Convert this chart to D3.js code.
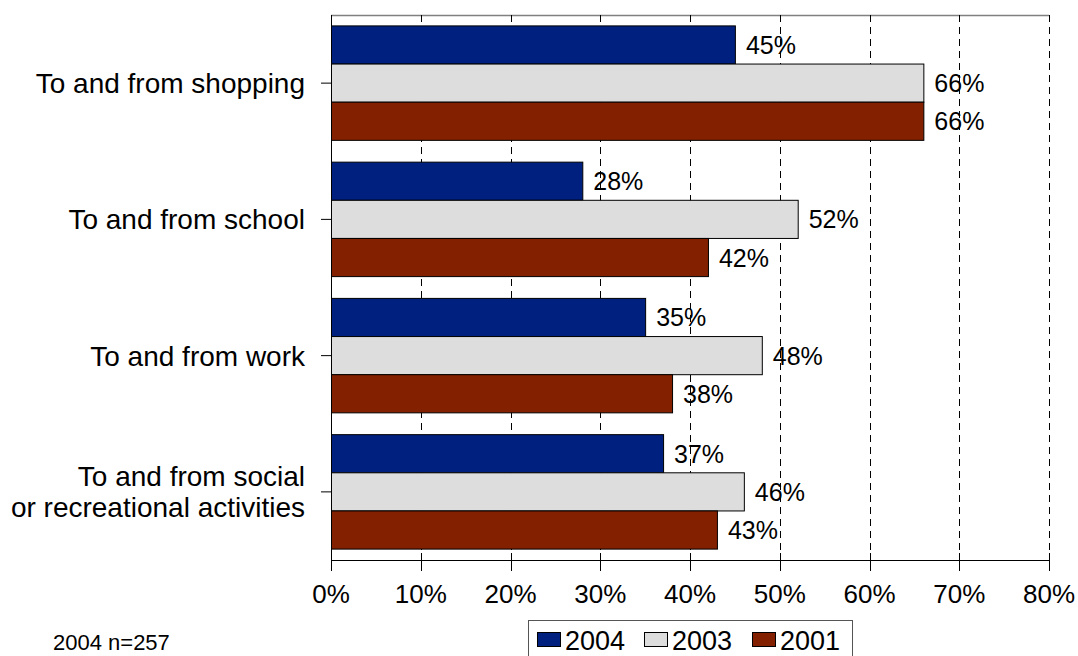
<!DOCTYPE html>
<html>
<head>
<meta charset="utf-8">
<script src="https://cdn.jsdelivr.net/npm/d3@7/dist/d3.min.js"></script>
<style>
  body { margin: 0; background: #fff; }
  svg { font-family: "Liberation Sans", Arial, sans-serif; }
</style>
</head>
<body>
<svg id="chart" width="1078" height="656"></svg>
<script>
// data
var categories = ["To and from shopping", "To and from school", "To and from work", "To and from social|or recreational activities"];
var seriesNames = ["2004", "2003", "2001"];
var seriesColors = ["#00207f", "#dddddd", "#822000"];
var values2004 = [45, 28, 35, 37];
var values2003 = [66, 52, 48, 46];
var values2001 = [66, 42, 38, 43];
var xTicks = [0, 10, 20, 30, 40, 50, 60, 70, 80];
var footnote = "2004 n=257";

var seriesValues = [values2004, values2003, values2001];

var svg = d3.select("#chart");
var margin = {top: 15, right: 29, bottom: 96, left: 331};
var width = 1078 - margin.left - margin.right,   // 718
    height = 656 - margin.top - margin.bottom;   // 545

var g = svg.append("g").attr("transform", "translate(" + margin.left + "," + margin.top + ")");

var x = d3.scaleLinear().domain([0, 80]).range([0, width]);
var y0 = d3.scaleBand().domain(categories).range([0, height]).paddingInner(0.16).paddingOuter(0.08);
var y1 = d3.scaleBand().domain(seriesNames).range([0, y0.bandwidth()]);

// plot border (top gray)
g.append("line")
  .attr("x1", 0).attr("x2", width).attr("y1", 0.5).attr("y2", 0.5)
  .attr("stroke", "#808080").attr("stroke-width", 1.5);

// dashed gridlines
g.selectAll(".grid").data(xTicks.slice(1)).enter().append("line")
  .attr("class", "grid")
  .attr("x1", function (d) { return Math.round(x(d)) + 0.5; })
  .attr("x2", function (d) { return Math.round(x(d)) + 0.5; })
  .attr("y1", 0).attr("y2", height)
  .attr("stroke", "#000").attr("stroke-width", 1)
  .attr("stroke-dasharray", "7,5");

// bars
var groups = g.selectAll(".cat").data(categories).enter().append("g")
  .attr("class", "cat")
  .attr("transform", function (d) { return "translate(0," + y0(d) + ")"; });

groups.each(function (cat, ci) {
  var grp = d3.select(this);
  seriesNames.forEach(function (s, si) {
    var v = seriesValues[si][ci];
    grp.append("rect")
      .attr("x", 0.5)
      .attr("y", y1(s))
      .attr("width", x(v))
      .attr("height", y1.bandwidth())
      .attr("fill", seriesColors[si])
      .attr("stroke", "#000")
      .attr("stroke-width", 1);
    grp.append("text")
      .attr("x", x(v) + 11)
      .attr("y", y1(s) + y1.bandwidth() / 2)
      .attr("dy", "0.36em")
      .attr("font-size", 25)
      .attr("fill", "#000")
      .text(v + "%");
  });
});

// x axis
var xAxis = g.append("g").attr("transform", "translate(0," + height + ")");
xAxis.append("line").attr("x1", 0).attr("x2", width).attr("y1", 0.5).attr("y2", 0.5)
  .attr("stroke", "#000");
xAxis.selectAll(".tick").data(xTicks).enter().append("line")
  .attr("x1", function (d) { return Math.round(x(d)) + 0.5; })
  .attr("x2", function (d) { return Math.round(x(d)) + 0.5; })
  .attr("y1", -7).attr("y2", 11)
  .attr("stroke", "#000");
xAxis.selectAll(".lbl").data(xTicks).enter().append("text")
  .attr("x", function (d) { return x(d); })
  .attr("y", 43)
  .attr("text-anchor", "middle")
  .attr("font-size", 26)
  .text(function (d) { return d + "%"; });

// y axis
var yAxis = g.append("g");
yAxis.append("line").attr("x1", 0.5).attr("x2", 0.5).attr("y1", 0).attr("y2", height)
  .attr("stroke", "#000");
yAxis.selectAll(".ytick").data(categories).enter().append("line")
  .attr("x1", -10).attr("x2", 0)
  .attr("y1", function (d) { return y0(d) + y0.bandwidth() / 2; })
  .attr("y2", function (d) { return y0(d) + y0.bandwidth() / 2; })
  .attr("stroke", "#000");
yAxis.selectAll(".ylbl").data(categories).enter().append("text")
  .attr("text-anchor", "end")
  .attr("font-size", 28)
  .each(function (d) {
    var lines = d.split("|");
    var cy = y0(d) + y0.bandwidth() / 2;
    var t = d3.select(this);
    lines.forEach(function (ln, i) {
      t.append("tspan")
        .attr("x", -26)
        .attr("y", cy + (i - (lines.length - 1) / 2) * 31)
        .attr("dy", "0.36em")
        .text(ln);
    });
  });

// legend
var legend = svg.append("g").attr("transform", "translate(528,620)");
legend.append("rect").attr("x", 0.5).attr("y", 0.5).attr("width", 324).attr("height", 44)
  .attr("fill", "#fff").attr("stroke", "#555").attr("stroke-width", 1);
var legendX = [9, 116, 224];
seriesNames.forEach(function (s, i) {
  legend.append("rect")
    .attr("x", legendX[i] + 0.5).attr("y", 12.5)
    .attr("width", 23).attr("height", 14)
    .attr("fill", seriesColors[i]).attr("stroke", "#000");
  legend.append("text")
    .attr("x", legendX[i] + 28).attr("y", 30)
    .attr("font-size", 27)
    .text(s);
});

// footnote
svg.append("text").attr("x", 53).attr("y", 650).attr("font-size", 22).text(footnote);
</script>
</body>
</html>
